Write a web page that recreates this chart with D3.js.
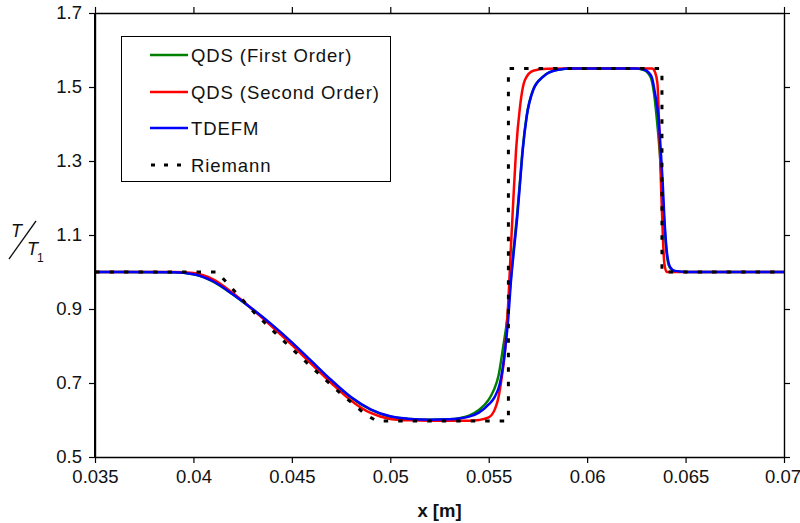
<!DOCTYPE html>
<html>
<head>
<meta charset="utf-8">
<script src="https://cdn.jsdelivr.net/npm/d3@7/dist/d3.min.js"></script>
<style>
  html, body { margin: 0; padding: 0; background: #fff; }
  svg { display: block; font-family: "Liberation Sans", Arial, sans-serif; }
</style>
</head>
<body>
<svg id="chart" width="800" height="523"></svg>
<script>
// Temperature ratio T/T1 along the tube: three numerical schemes vs. the exact Riemann solution
const xTicks = [0.035, 0.04, 0.045, 0.05, 0.055, 0.06, 0.065, 0.07];
const xTickLabels = ["0.035", "0.04", "0.045", "0.05", "0.055", "0.06", "0.065", "0.07"];
const yTicks = [0.5, 0.7, 0.9, 1.1, 1.3, 1.5, 1.7];
const yTickLabels = ["0.5", "0.7", "0.9", "1.1", "1.3", "1.5", "1.7"];

const seriesNames = ["QDS (First Order)", "QDS (Second Order)", "TDEFM", "Riemann"];

const qds1X = [0.035, 0.0390, 0.0400, 0.0410, 0.0420, 0.0430, 0.0440, 0.0450, 0.0460, 0.0470, 0.0480, 0.0490, 0.0500, 0.0510, 0.0520, 0.0530, 0.0535, 0.0540, 0.0545, 0.0550, 0.05525, 0.05550, 0.05571, 0.05595, 0.05610, 0.05626, 0.05643, 0.05658, 0.05672, 0.05692, 0.05725, 0.05776, 0.05845, 0.0593, 0.0624, 0.06288, 0.06322, 0.06340, 0.06353, 0.06368, 0.06380, 0.06390, 0.06402, 0.06418, 0.06442, 0.06506, 0.07];
const qds1T = [1.0, 0.999, 0.994, 0.974, 0.939, 0.899, 0.856, 0.809, 0.758, 0.707, 0.661, 0.628, 0.609, 0.603, 0.601, 0.602, 0.605, 0.612, 0.627, 0.655, 0.680, 0.720, 0.789, 0.879, 0.969, 1.059, 1.149, 1.240, 1.330, 1.420, 1.492, 1.528, 1.546, 1.550, 1.550, 1.546, 1.527, 1.482, 1.419, 1.329, 1.239, 1.149, 1.059, 1.014, 1.003, 1.0, 1.0];

const qds2X = [0.035, 0.0390, 0.0400, 0.0410, 0.0420, 0.0430, 0.0440, 0.0450, 0.0460, 0.0470, 0.0480, 0.0490, 0.0500, 0.0510, 0.0520, 0.0535, 0.0540, 0.0545, 0.0550, 0.05532, 0.05547, 0.05562, 0.05583, 0.05600, 0.05612, 0.05625, 0.05639, 0.05659, 0.05684, 0.05726, 0.05795, 0.0590, 0.0633, 0.06345, 0.06357, 0.06367, 0.06375, 0.06384, 0.06392, 0.06404, 0.0643, 0.07];
const qds2T = [1.0, 1.0, 0.997, 0.980, 0.943, 0.899, 0.852, 0.803, 0.751, 0.700, 0.653, 0.619, 0.603, 0.599, 0.598, 0.598, 0.598, 0.600, 0.607, 0.630, 0.655, 0.700, 0.789, 0.924, 1.059, 1.195, 1.330, 1.447, 1.519, 1.544, 1.549, 1.550, 1.550, 1.540, 1.510, 1.375, 1.240, 1.105, 1.024, 1.0, 1.0, 1.0];

const tdefmX = [0.035, 0.0390, 0.0400, 0.0410, 0.0420, 0.0430, 0.0440, 0.0450, 0.0460, 0.0470, 0.0480, 0.0490, 0.0500, 0.0510, 0.0520, 0.0530, 0.0535, 0.0540, 0.0545, 0.0550, 0.05530, 0.05557, 0.05583, 0.05600, 0.05612, 0.05628, 0.05645, 0.05659, 0.05673, 0.05693, 0.05726, 0.05777, 0.05845, 0.0593, 0.0625, 0.06294, 0.06328, 0.06345, 0.06362, 0.06374, 0.06384, 0.06392, 0.06404, 0.06421, 0.06446, 0.06506, 0.07];
const tdefmT = [1.0, 0.999, 0.994, 0.975, 0.940, 0.900, 0.857, 0.810, 0.759, 0.708, 0.662, 0.629, 0.610, 0.603, 0.601, 0.602, 0.604, 0.609, 0.620, 0.642, 0.662, 0.699, 0.789, 0.879, 0.969, 1.059, 1.149, 1.240, 1.330, 1.420, 1.492, 1.528, 1.546, 1.550, 1.550, 1.546, 1.527, 1.482, 1.419, 1.329, 1.239, 1.149, 1.059, 1.014, 1.003, 1.0, 1.0];

const riemannX = [0.035, 0.0412, 0.04313, 0.04426, 0.04533, 0.04643, 0.04756, 0.04872, 0.04931, 0.0560, 0.0560, 0.0638, 0.0638, 0.07];
const riemannT = [1.0, 1.0, 0.888, 0.830, 0.776, 0.722, 0.668, 0.616, 0.597, 0.597, 1.55, 1.55, 1.0, 1.0];

const colors = ["#008000", "#ff0000", "#0000ff", "#000000"];

const margin = { left: 95, top: 13, right: 16, bottom: 66 };
const W = 800, H = 523;
const svg = d3.select("#chart");

const x = d3.scaleLinear().domain([0.035, 0.07]).range([margin.left, W - margin.right]);
const y = d3.scaleLinear().domain([0.5, 1.7]).range([H - margin.bottom, margin.top]);

const zip = (xs, ys) => xs.map((v, i) => [v, ys[i]]);

const smooth = d3.line().x(d => x(d[0])).y(d => y(d[1])).curve(d3.curveMonotoneX);
const straight = d3.line().x(d => x(d[0])).y(d => y(d[1]));

const plot = svg.append("g");
plot.append("path").datum(zip(qds1X, qds1T))
  .attr("d", smooth).attr("fill", "none").attr("stroke", colors[0]).attr("stroke-width", 2.5);
plot.append("path").datum(zip(qds2X, qds2T))
  .attr("d", smooth).attr("fill", "none").attr("stroke", colors[1]).attr("stroke-width", 2.5);
plot.append("path").datum(zip(tdefmX, tdefmT))
  .attr("d", smooth).attr("fill", "none").attr("stroke", colors[2]).attr("stroke-width", 2.5);
plot.append("path").datum(zip(riemannX, riemannT))
  .attr("d", straight).attr("fill", "none").attr("stroke", colors[3])
  .attr("stroke-width", 3).attr("stroke-dasharray", "4.5,10");

// Axes on all four sides, ticks pointing outward
const tickFmt = (labels, ticks) => (d) => labels[ticks.indexOf(d)];
const styleAxis = g => {
  g.selectAll("path.domain").attr("stroke", "#000").attr("stroke-width", 1.4);
  g.selectAll(".tick line").attr("stroke", "#000").attr("stroke-width", 1.2);
  g.selectAll(".tick text").attr("fill", "#111").style("font-size", "18.5px")
    .style("font-family", "'Liberation Sans', Arial, sans-serif");
};

const xAxisG = svg.append("g").attr("transform", `translate(0,${y(0.5)})`)
  .call(d3.axisBottom(x).tickValues(xTicks).tickFormat(tickFmt(xTickLabels, xTicks)).tickSize(6).tickSizeOuter(0).tickPadding(7))
  .call(styleAxis);
// keep the last label inside the page edge
xAxisG.selectAll(".tick text").filter(d => d === 0.07).attr("text-anchor", "end").attr("dx", "16.5");
svg.append("g").attr("transform", `translate(0,${y(1.7)})`)
  .call(d3.axisTop(x).tickValues(xTicks).tickFormat("").tickSize(6).tickSizeOuter(0))
  .call(styleAxis);
svg.append("g").attr("transform", `translate(${x(0.035)},0)`)
  .call(d3.axisLeft(y).tickValues(yTicks).tickFormat(tickFmt(yTickLabels, yTicks)).tickSize(6).tickSizeOuter(0).tickPadding(7))
  .call(styleAxis);
svg.append("g").attr("transform", `translate(${x(0.07)},0)`)
  .call(d3.axisRight(y).tickValues(yTicks).tickFormat("").tickSize(6).tickSizeOuter(0))
  .call(styleAxis);
// Thicker left spine
svg.append("line").attr("x1", x(0.035)).attr("x2", x(0.035)).attr("y1", y(1.7)).attr("y2", y(0.5))
  .attr("stroke", "#000").attr("stroke-width", 2);

// Axis titles
svg.append("text").attr("x", (x(0.035) + x(0.07)) / 2).attr("y", 517)
  .attr("text-anchor", "middle").style("font-size", "18.5px").style("font-weight", "bold")
  .attr("fill", "#111").text("x [m]");

const yl = svg.append("g").attr("fill", "#111");
yl.append("text").attr("x", 11).attr("y", 237).style("font-size", "18px").style("font-style", "italic").text("T");
yl.append("line").attr("x1", 9).attr("y1", 259).attr("x2", 36).attr("y2", 221)
  .attr("stroke", "#111").attr("stroke-width", 1.3);
yl.append("text").attr("x", 27).attr("y", 255).style("font-size", "18px").style("font-style", "italic").text("T");
yl.append("text").attr("x", 37).attr("y", 262).style("font-size", "12px").text("1");

// Legend
const legend = svg.append("g");
legend.append("rect").attr("x", 121.5).attr("y", 36.5).attr("width", 269).attr("height", 145)
  .attr("fill", "#fff").attr("stroke", "#000").attr("stroke-width", 1);
const rowY = [55, 92, 128, 165];
seriesNames.forEach((name, i) => {
  const ln = legend.append("line").attr("x1", 150).attr("x2", 188).attr("y1", rowY[i]).attr("y2", rowY[i])
    .attr("stroke", colors[i]).attr("stroke-width", i === 3 ? 3 : 2.5);
  if (i === 3) ln.attr("stroke-dasharray", "4,9").attr("x1", 151).attr("x2", 184);
  legend.append("text").attr("x", 191).attr("y", rowY[i] + 6.5).style("font-size", "18.5px")
    .style("letter-spacing", "0.9px").attr("fill", "#111").text(name);
});
</script>
</body>
</html>
